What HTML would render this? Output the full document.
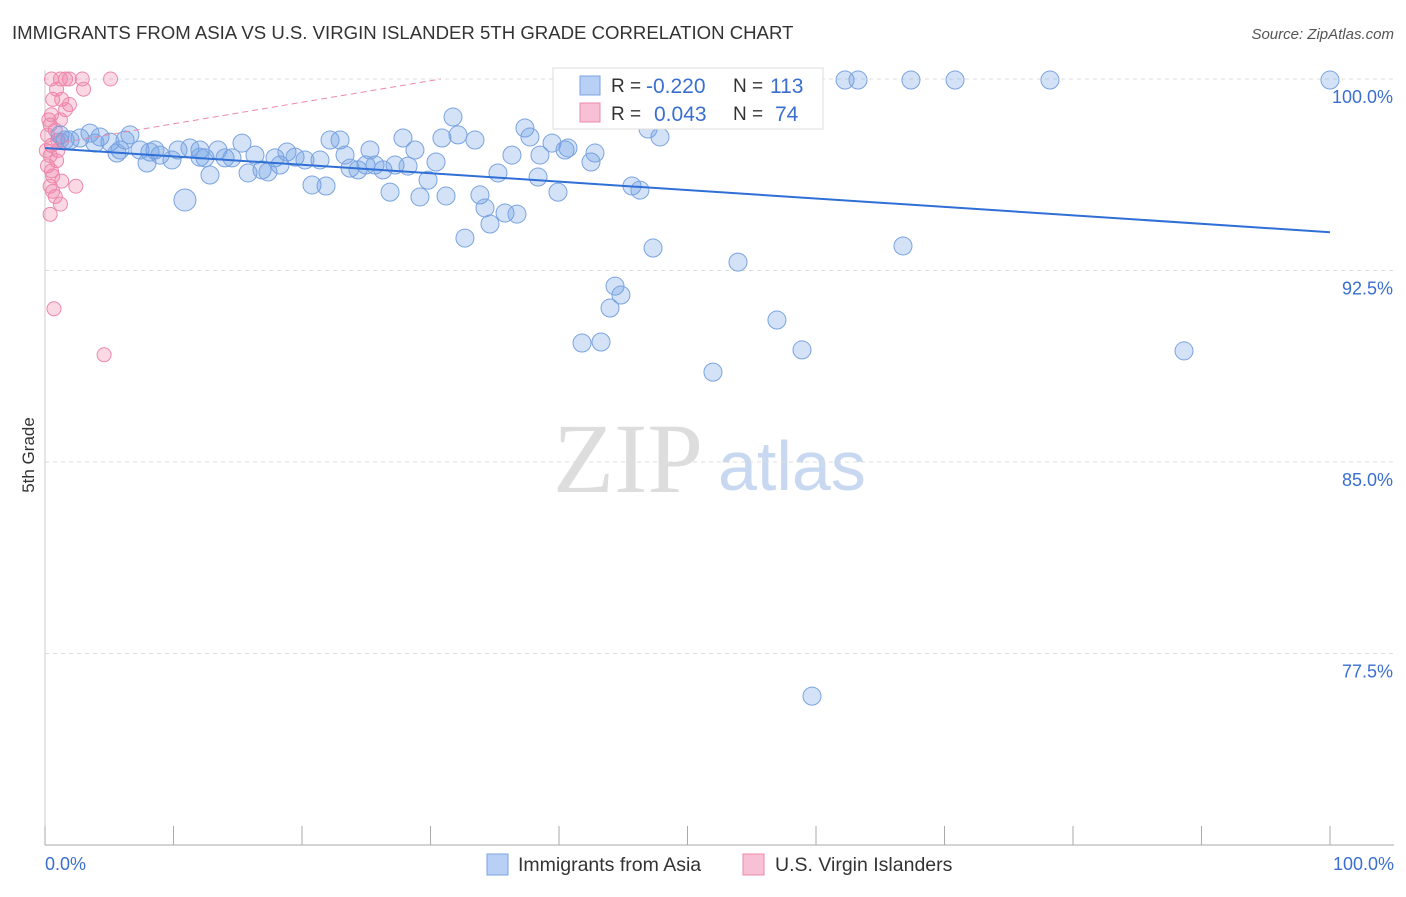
<!DOCTYPE html>
<html><head><meta charset="utf-8"><style>
body{margin:0;background:#fff;font-family:"Liberation Sans",sans-serif}
</style></head><body>
<svg id="chart" width="1406" height="892" viewBox="0 0 1406 892" style="font-family:'Liberation Sans',sans-serif">
<text x="12" y="39" font-size="18.6" fill="#333">IMMIGRANTS FROM ASIA VS U.S. VIRGIN ISLANDER 5TH GRADE CORRELATION CHART</text>
<text x="1394" y="39" font-size="15" fill="#555" text-anchor="end" font-style="italic">Source: ZipAtlas.com</text>
<text x="34" y="455" font-size="17" fill="#333" text-anchor="middle" transform="rotate(-90 34 455)">5th Grade</text>
<text x="553" y="492" font-size="100" fill="#ddd" style="font-family:'Liberation Serif',serif">ZIP</text>
<text x="718" y="490" font-size="70" fill="#c8d8f0">atlas</text>
<g id="grid"></g><g id="axes"></g><g id="pink"></g><g id="blue"></g><g id="trends"></g>
<g>
<rect x="553" y="68" width="270" height="61" fill="#fff" stroke="#ddd"/>
<rect x="580" y="76" width="20" height="19" fill="#b8d0f5" stroke="#7aa3e0"/>
<text x="611" y="92" font-size="19" fill="#333">R =</text>
<text x="646" y="93" font-size="21" fill="#3a6fd0">-0.220</text>
<text x="733" y="92" font-size="19" fill="#333">N =</text>
<text x="770" y="93" font-size="21" fill="#3a6fd0">113</text>
<rect x="580" y="103" width="20" height="19" fill="#f8c0d4" stroke="#ee88aa"/>
<text x="611" y="120" font-size="19" fill="#333">R =</text>
<text x="654" y="121" font-size="21" fill="#3a6fd0">0.043</text>
<text x="733" y="120" font-size="19" fill="#333">N =</text>
<text x="775" y="121" font-size="21" fill="#3a6fd0">74</text>
</g>
<g>
<rect x="487" y="854" width="21" height="21" fill="#b8d0f5" stroke="#7aa3e0"/>
<text x="518" y="871" font-size="19.5" fill="#333">Immigrants from Asia</text>
<rect x="743" y="854" width="21" height="21" fill="#f8c0d4" stroke="#ee88aa"/>
<text x="775" y="871" font-size="19.5" fill="#333">U.S. Virgin Islanders</text>
</g>
</svg>
<script>
const yTicks=[100,92.5,85,77.5];
const yTickLabels=["100.0%","92.5%","85.0%","77.5%"];
const blueX=[1.17,1.95,2.72,3.50,4.28,5.06,5.84,6.61,7.39,7.94,8.56,8.95,9.88,10.35,10.89,11.28,12.06,12.45,12.84,13.46,14.01,14.55,15.33,15.80,16.34,16.89,17.35,17.90,18.29,18.83,19.46,20.23,20.78,21.40,21.87,22.18,22.96,23.35,23.74,24.36,24.98,25.29,25.68,26.30,26.85,27.24,27.86,28.25,28.79,29.18,29.81,30.43,30.89,31.21,31.75,32.14,32.68,33.46,33.85,34.24,34.63,35.25,35.80,36.34,36.73,37.35,37.74,38.52,38.37,39.46,39.92,40.47,40.70,42.49,42.80,41.79,43.27,43.97,44.36,44.82,45.68,46.30,46.93,47.32,47.86,50.43,52.37,53.31,53.93,56.96,58.91,51.98,59.69,62.26,63.27,66.77,67.39,70.82,78.21,88.64,100,6.23,3.89,1.56,5.60,8.17,12.06];
const blueY=[97.81,97.61,97.69,97.88,97.73,97.53,97.22,97.81,97.22,96.71,97.22,97.02,96.83,97.22,95.26,97.30,97.22,96.91,96.24,97.22,96.91,96.91,97.49,96.32,97.02,96.44,96.36,96.91,96.63,97.14,96.94,96.83,95.85,96.83,95.81,97.61,97.61,97.02,96.51,96.44,96.63,97.22,96.63,96.44,95.57,96.63,97.69,96.59,97.22,95.38,96.04,96.75,97.69,95.42,98.51,97.81,93.77,97.61,95.46,94.95,94.32,96.32,94.75,97.02,94.71,98.08,97.73,97.02,96.16,97.49,95.57,97.22,97.30,96.75,97.10,89.66,89.70,91.03,91.89,91.54,95.81,95.65,98.04,93.38,97.73,98.51,99.84,99.96,92.83,90.56,89.39,88.52,75.83,99.96,99.96,93.46,99.96,99.96,99.96,89.35,99.96,97.61,97.49,97.61,97.10,97.14,96.94];
const pinkX=[0.5,1.2,1.6,1.9,2.9,5.1,0.9,3.0,0.6,1.3,1.9,0.5,1.2,0.4,0.8,0.2,1.3,0.5,1.0,0.4,0.9,0.2,0.6,1.3,0.4,2.4,0.8,1.2,0.4,0.7,4.6,0.5,0.1,1.6,1.0,0.3,0.6];
const pinkY=[100,100,100,100,100,100,99.6,99.6,99.2,99.2,99.0,98.6,98.4,98.2,98.0,97.8,97.6,97.4,97.2,97.0,96.8,96.6,96.2,96.0,95.8,95.8,95.4,95.1,94.7,91.0,89.2,96.4,97.2,98.8,97.6,98.4,95.6];
const blueTrend=[97.3,94.0];
const pinkTrend=[97.4,100];const pinkTrendEnd=30.8;
const X0=45,X1=1330,Y0=79,YB=845;
const sx=v=>X0+(X1-X0)*v/100;
const sy=v=>Y0+(100-v)*(YB-Y0)/30;
const NS="http://www.w3.org/2000/svg";
function mk(tag,attrs,parent){const e=document.createElementNS(NS,tag);for(const k in attrs)e.setAttribute(k,attrs[k]);document.getElementById(parent).appendChild(e);return e;}
yTicks.forEach((t,i)=>{
 const l=mk("line",{x1:X0,x2:1394,y1:sy(t),y2:sy(t),stroke:"#ddd","stroke-dasharray":"4,4"},"grid");
 
 
 const tx=mk("text",{x:1393,y:sy(t)+24,"font-size":18,fill:"#3a6fd0","text-anchor":"end"},"grid");
 tx.textContent=yTickLabels[i];
 
 
});
const ax=mk("line",{x1:X0,x2:1394,y1:YB,y2:YB,stroke:"#aaa"},"axes");


const ay=mk("line",{x1:X0,x2:X0,y1:70,y2:YB,stroke:"#ccc"},"axes");


for(let i=0;i<=10;i++){const t=mk("line",{x1:sx(i*10),x2:sx(i*10),y1:826,y2:YB,stroke:"#aaa"},"axes");
 
 }
[["0.0%",X0,"start"],["100.0%",1394,"end"]].forEach(a=>{const t=mk("text",{x:a[1],y:870,"font-size":18,fill:"#3a6fd0","text-anchor":a[2]},"axes");t.textContent=a[0];
 
 });
pinkX.forEach((x,i)=>{const c=mk("circle",{cx:sx(x),cy:sy(pinkY[i]),r:7,fill:"rgba(240,130,170,0.3)",stroke:"#ee88aa","stroke-width":1},"pink");
 
 });
blueX.forEach((x,i)=>{const c=mk("circle",{cx:sx(x),cy:sy(blueY[i]),r:(i==14?11:9),fill:"rgba(110,160,230,0.3)",stroke:"#7aa3e0","stroke-width":1},"blue");
 
 });
const bt=mk("line",{x1:sx(0),y1:sy(blueTrend[0]),x2:sx(100),y2:sy(blueTrend[1]),stroke:"#2f6fd6","stroke-width":2},"trends");


const pt=mk("line",{x1:sx(0),y1:sy(pinkTrend[0]),x2:sx(pinkTrendEnd),y2:sy(pinkTrend[1]),stroke:"#ee88aa","stroke-width":1,"stroke-dasharray":"6,4"},"trends");


</script>
</body></html>
